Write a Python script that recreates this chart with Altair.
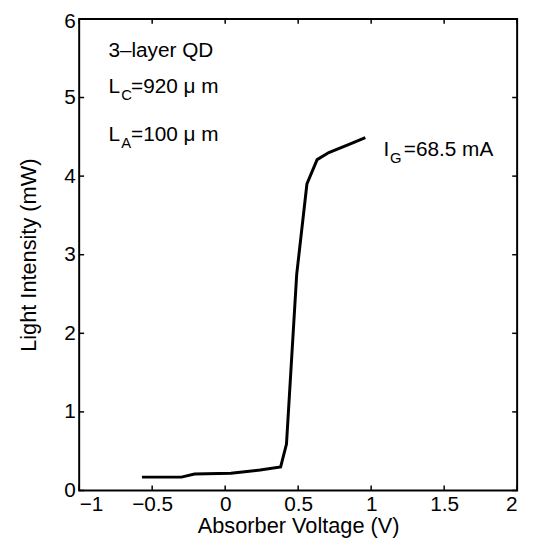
import altair as alt
import pandas as pd

# ---- data ----
voltage = [-0.57, -0.30, -0.21, 0.04, 0.24, 0.38, 0.42, 0.49, 0.56, 0.63, 0.71, 0.87, 0.96]
intensity = [0.17, 0.17, 0.21, 0.22, 0.26, 0.30, 0.59, 2.75, 3.90, 4.21, 4.30, 4.42, 4.49]

x_ticks = [-1, -0.5, 0, 0.5, 1, 1.5, 2]
y_ticks = [0, 1, 2, 3, 4, 5, 6]

label_x = [-0.80, -0.80, -0.80, 1.085]
label_y = [5.52, 5.06, 4.45, 4.26]
label_base = ["3\u2013layer QD", "L", "L", "I"]
label_sub = ["", "C", "A", "G"]
label_rest = ["", "=920 \u03bc m", "=100 \u03bc m", "=68.5 mA"]

# ---- styling ----
W, H = 443, 477
FONT = "Liberation Sans"
FS = 21
TITLE_FS = 22
SUB_FS = 15
TICK_LEN = 5
sub_dx = [0, 13, 13, 6.5]
rest_dx = [0, 23, 23, 20.5]

xs = alt.Scale(domain=[-1, 2], nice=False, zero=False)
ys = alt.Scale(domain=[0, 6], nice=False, zero=False)

curve = pd.DataFrame({"x": voltage, "y": intensity})
xt = pd.DataFrame({"x": x_ticks})
yt = pd.DataFrame({"y": y_ticks})

x_axis = alt.Axis(values=x_ticks, format="~g", title="Absorber Voltage (V)",
                  labelPadding=3, titlePadding=1)
y_axis = alt.Axis(values=y_ticks, format="~g", title="Light Intensity (mW)",
                  labelPadding=4, titlePadding=23,
                  labelOffset={"condition": {"test": "datum.value == 6", "value": 3}, "value": 0})

line = alt.Chart(curve).mark_line(color="black", strokeWidth=3).encode(
    x=alt.X("x:Q", scale=xs, axis=x_axis),
    y=alt.Y("y:Q", scale=ys, axis=y_axis),
)

tick_style = dict(color="black", strokeWidth=1.5)
bottom_ticks = alt.Chart(xt).mark_rule(**tick_style).encode(
    x=alt.X("x:Q", scale=xs, axis=x_axis), y=alt.value(H), y2=alt.value(H - TICK_LEN))
top_ticks = alt.Chart(xt).mark_rule(**tick_style).encode(
    x=alt.X("x:Q", scale=xs, axis=x_axis), y=alt.value(0), y2=alt.value(TICK_LEN))
left_ticks = alt.Chart(yt).mark_rule(**tick_style).encode(
    y=alt.Y("y:Q", scale=ys, axis=y_axis), x=alt.value(0), x2=alt.value(TICK_LEN))
right_ticks = alt.Chart(yt).mark_rule(**tick_style).encode(
    y=alt.Y("y:Q", scale=ys, axis=y_axis), x=alt.value(W), x2=alt.value(W - TICK_LEN))

layers = [line, bottom_ticks, top_ticks, left_ticks, right_ticks]

labels = pd.DataFrame({"x": label_x, "y": label_y, "base": label_base,
                       "sub": label_sub, "rest": label_rest})
for i in range(len(labels)):
    row = labels.iloc[[i]]
    enc = dict(x=alt.X("x:Q", scale=xs, axis=x_axis), y=alt.Y("y:Q", scale=ys, axis=y_axis))
    layers.append(alt.Chart(row).mark_text(
        align="left", baseline="alphabetic", font=FONT, fontSize=FS, color="black"
    ).encode(text="base:N", **enc))
    if label_sub[i]:
        layers.append(alt.Chart(row).mark_text(
            align="left", baseline="alphabetic", font=FONT, fontSize=SUB_FS, color="black",
            dx=sub_dx[i], dy=7
        ).encode(text="sub:N", **enc))
        layers.append(alt.Chart(row).mark_text(
            align="left", baseline="alphabetic", font=FONT, fontSize=FS, color="black",
            dx=rest_dx[i]
        ).encode(text="rest:N", **enc))

chart = alt.layer(*layers).properties(
    width=W, height=H,
    autosize=alt.AutoSizeParams(type="none"),
    padding={"left": 72, "top": 8, "right": 12, "bottom": 45},
).configure_view(
    stroke="black", strokeWidth=2
).configure_axis(
    grid=False, ticks=False, domain=False,
    labelFont=FONT, labelFontSize=FS, labelColor="black",
    titleFont=FONT, titleFontSize=TITLE_FS, titleColor="black", titleFontWeight="normal",
)

chart.save("out.html", embed_options={"renderer": "svg", "actions": False})
